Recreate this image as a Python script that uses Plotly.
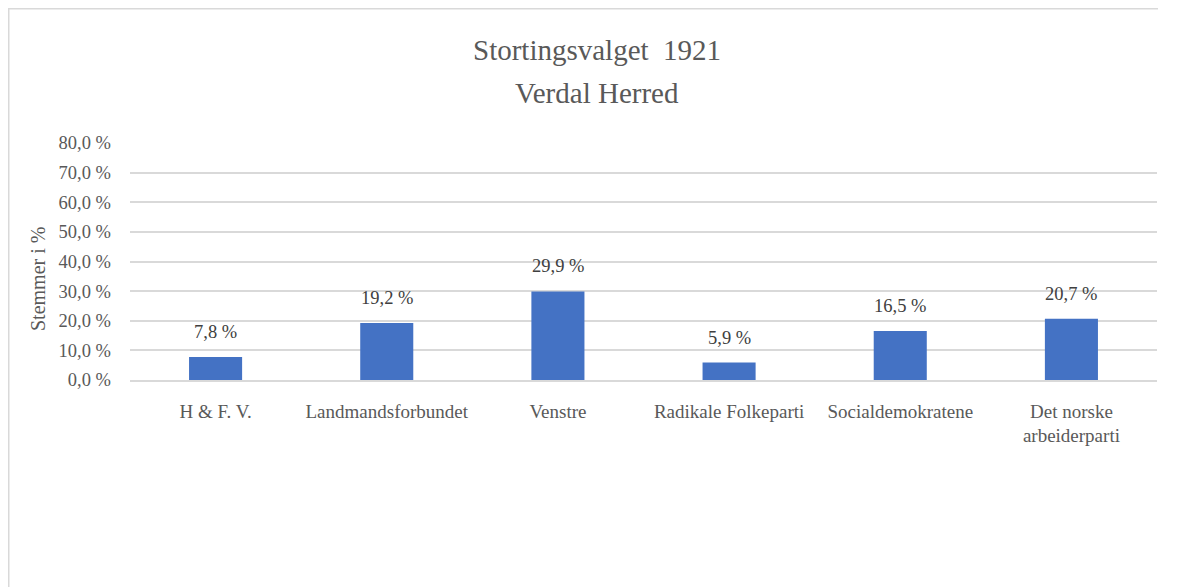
import plotly.graph_objects as go

parties = ["H & F. V.", "Landmandsforbundet", "Venstre", "Radikale Folkeparti",
           "Socialdemokratene", "Det norske<br>arbeiderparti"]
shares = [7.8, 19.2, 29.9, 5.9, 16.5, 20.7]
tick_vals = [0, 10, 20, 30, 40, 50, 60, 70, 80]
tick_text = [f"{v:.1f}".replace(".", ",") + " %" for v in tick_vals]
labels = [f"{v:.1f}".replace(".", ",") + " %" for v in shares]

FONT = "Liberation Serif, Times New Roman, serif"

fig = go.Figure(go.Bar(
    x=parties, y=shares, marker_color="#4472C4", marker_line_width=0,
))

# page body has an 8px margin; pixel numbers below are in figure coordinates
L, R, T, B = 122, 27, 135, 207
W, H = 1176, 579
pw, ph = W - L - R, H - T - B


def px(xp):
    return (xp - L) / pw


def py(yp):
    return (H - B - yp) / ph


annotations = [dict(x=p, y=v, text=t, showarrow=False, yanchor="bottom", yshift=13,
                    font=dict(family=FONT, size=18.5, color="#404040"))
               for p, v, t in zip(parties, shares, labels)]
annotations += [
    dict(xref="paper", yref="paper", x=px(589), y=py(42),
         text="Stortingsvalget  1921", showarrow=False, xanchor="center", yanchor="middle",
         font=dict(family=FONT, size=29, color="#595959")),
    dict(xref="paper", yref="paper", x=px(589), y=py(85),
         text="Verdal Herred", showarrow=False, xanchor="center", yanchor="middle",
         font=dict(family=FONT, size=29, color="#595959")),
    dict(xref="paper", yref="paper", x=px(30), y=py(271), textangle=-90,
         text="Stemmer i %", showarrow=False, xanchor="center", yanchor="middle",
         font=dict(family=FONT, size=20, color="#595959")),
]

fig.update_layout(
    width=W, height=H,
    margin=dict(l=L, r=R, t=T, b=B, pad=0),
    paper_bgcolor="white", plot_bgcolor="white",
    bargap=0.69, showlegend=False,
    font=dict(family=FONT, color="#595959"),
    xaxis=dict(showgrid=False, showline=True, linecolor="#D9D9D9", linewidth=1.5,
               ticks="", tickfont=dict(family=FONT, size=19, color="#595959"),
               ticklabelstandoff=13),
    yaxis=dict(range=[0, 80], tickvals=tick_vals, ticktext=tick_text,
               showgrid=True, gridcolor="#D9D9D9", gridwidth=1.5, zeroline=False,
               ticks="", tickfont=dict(family=FONT, size=18.5, color="#595959"),
               ticklabelstandoff=18),
    annotations=annotations,
    shapes=[
        dict(type="line", xref="paper", yref="paper",
             x0=px(0), x1=px(1150), y0=py(0.5), y1=py(0.5),
             line=dict(color="#D9D9D9", width=2), layer="below"),
        dict(type="line", xref="paper", yref="paper",
             x0=px(0.5), x1=px(0.5), y0=py(0), y1=py(H),
             line=dict(color="#D9D9D9", width=2), layer="below"),
    ],
)

fig.write_html("out.html")
